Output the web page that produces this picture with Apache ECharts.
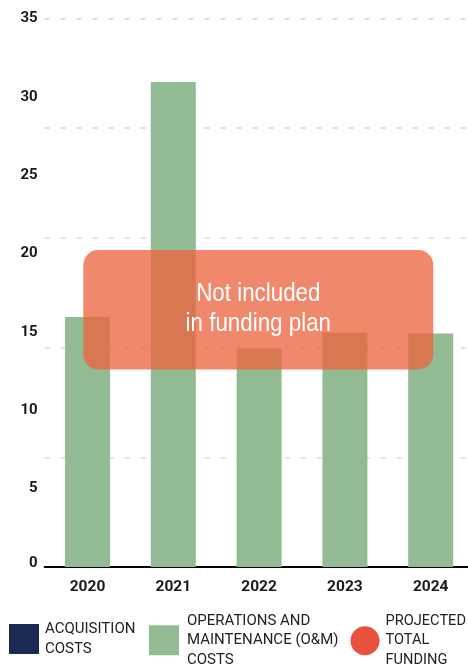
<!DOCTYPE html>
<html>
<head>
<meta charset="utf-8">
<script src="https://cdn.jsdelivr.net/npm/echarts@6/dist/echarts.min.js"></script>
<style>
html,body{margin:0;padding:0;background:#fff;}
#chart{width:468px;height:669px;}
</style>
</head>
<body>
<div id="chart"></div>
<script>
// ---- data ----
var years = ['2020', '2021', '2022', '2023', '2024'];
var acquisitionCosts = [0, 0, 0, 0, 0];
var omCosts = [15.95, 30.95, 13.95, 14.95, 14.9];
var projectedFunding = [];
var yTickLabels = [0, 5, 10, 15, 20, 25, 30, 35];
var seriesNames = ['ACQUISITION\nCOSTS', 'OPERATIONS AND\nMAINTENANCE (O&M)\nCOSTS', 'PROJECTED\nTOTAL\nFUNDING'];
var noteText = 'Not included\nin funding plan';

var NAVY = '#1b2a52', GREEN = '#93bb93', RED = '#e8523c';
var chart = echarts.init(document.getElementById('chart'), null, {renderer: 'canvas'});

function legendText(padLeft, size) {
  return {color: '#222', fontSize: size || 15, fontFamily: 'Roboto, "Liberation Sans", Arial, sans-serif',
    lineHeight: 19.5, padding: [0, 0, 0, padLeft]};
}

var option = {
  animation: false,
  backgroundColor: '#fff',
  grid: {left: 44.6, width: 429, top: 18.5, bottom: 102, outerBoundsMode: 'none', containLabel: false},
  xAxis: {
    type: 'category',
    data: years,
    axisLine: {lineStyle: {color: '#000', width: 2}},
    axisTick: {show: false},
    axisLabel: {color: '#1a1a1a', fontSize: 15.5, fontWeight: 'bold', margin: 12,
      fontFamily: 'Roboto, "Liberation Sans", Arial, sans-serif'}
  },
  yAxis: [{
    type: 'value', min: 0, max: 35, interval: 5,
    axisLine: {show: false}, axisTick: {show: false},
    splitLine: {show: false},
    axisLabel: {color: '#1a1a1a', fontSize: 15, fontWeight: 'bold', margin: 7,
      fontFamily: 'Roboto, "Liberation Sans", Arial, sans-serif',
      formatter: function (v) {
        if (yTickLabels.indexOf(v) < 0) return '';
        return v === 0 ? '{z|0}' : String(v);
      },
      rich: {z: {fontSize: 15, fontWeight: 'bold', color: '#1a1a1a', padding: [0, 0, 8, 0],
        fontFamily: 'Roboto, "Liberation Sans", Arial, sans-serif'}}}
  }, {
    type: 'value', min: 0, max: 35, interval: 7, position: 'left',
    axisLine: {show: false}, axisTick: {show: false}, axisLabel: {show: false},
    splitLine: {show: true, lineStyle: {color: '#d6d6d6', width: 1.5, type: [5, 11]}}
  }],
  legend: [
    {data: [seriesNames[0]], left: 9, top: 619.5, padding: 0, itemWidth: 30, itemHeight: 30, icon: 'rect', textStyle: legendText(1), selectedMode: false},
    {data: [seriesNames[1]], left: 149, top: 611, padding: 0, itemWidth: 30, itemHeight: 30, icon: 'rect', textStyle: legendText(3), selectedMode: false},
    {data: [seriesNames[2]], left: 350.5, top: 611.5, padding: 0, itemWidth: 29, itemHeight: 29, icon: 'circle', textStyle: legendText(1, 14.6), selectedMode: false}
  ],
  series: [
    {name: seriesNames[0], type: 'bar', stack: 'cost', data: acquisitionCosts, barWidth: 45, itemStyle: {color: NAVY}},
    {name: seriesNames[1], type: 'bar', stack: 'cost', data: omCosts, barWidth: 45, itemStyle: {color: GREEN}},
    {name: seriesNames[2], type: 'scatter', data: projectedFunding, itemStyle: {color: RED, opacity: 1}}
  ],
  graphic: [{
    type: 'group', z: 100,
    children: [{
      type: 'rect', z: 100,
      shape: {x: 83.3, y: 250, width: 350, height: 119.5, r: 15},
      style: {fill: 'rgb(236,100,62)', opacity: 0.77}
    }, {
      type: 'text', z: 101,
      x: 258.3, y: 309, scaleX: 0.86,
      style: {text: noteText, fill: '#fff', fontSize: 26, lineHeight: 30,
        fontFamily: '"Liberation Sans", Arial, sans-serif',
        align: 'center', verticalAlign: 'middle'}
    }]
  }]
};
chart.setOption(option);
</script>
</body>
</html>
